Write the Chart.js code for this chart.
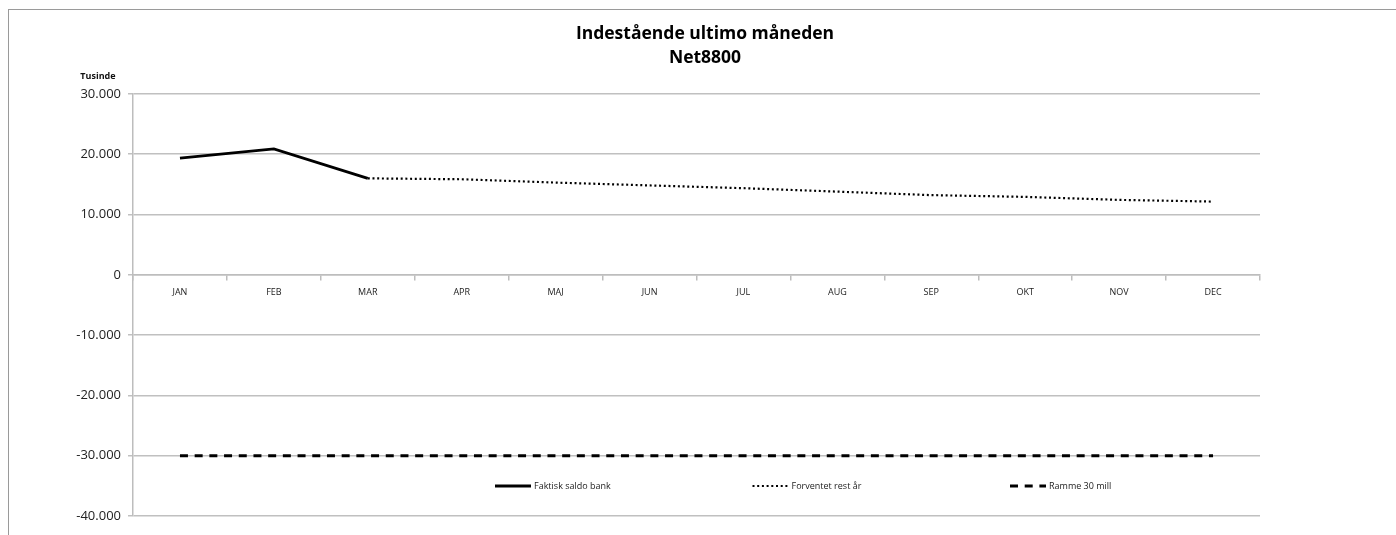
<!DOCTYPE html>
<html>
<head>
<meta charset="utf-8">
<script src="https://cdn.jsdelivr.net/npm/chart.js@4.4.0/dist/chart.umd.min.js"></script>
<style>
  html, body { margin: 0; padding: 0; background: #fff; }
  #wrap { position: relative; width: 1396px; height: 535px; }
  #frame { position: absolute; left: 8px; top: 9px; right: -2px; bottom: -2px; border-left: 1px solid #9a9a9a; border-top: 1px solid #9a9a9a; pointer-events: none; }
</style>
</head>
<body>
<div id="wrap">
  <canvas id="c" width="1396" height="535"></canvas>
  <div id="frame"></div>
</div>
<script>
const categories = ['JAN','FEB','MAR','APR','MAJ','JUN','JUL','AUG','SEP','OKT','NOV','DEC'];
const faktiskSaldo = [19350, 20900, 16000, null, null, null, null, null, null, null, null, null];
const forventetRest = [null, null, 16000, 15850, 15300, 14830, 14370, 13800, 13220, 12930, 12430, 12150];
const ramme = [-30000, -30000, -30000, -30000, -30000, -30000, -30000, -30000, -30000, -30000, -30000, -30000];
const seriesNames = ['Faktisk saldo bank', 'Forventet rest år', 'Ramme 30 mill'];
const titleLines = ['Indestående ultimo måneden', 'Net8800'];
const yAxisUnit = 'Tusinde';
const yMin = -40000, yMax = 30000, yStep = 10000;

const FONT = "'Open Sans', 'Liberation Sans', sans-serif";

function fmt(v) {
  const neg = v < 0;
  const s = Math.abs(v).toString().replace(/\B(?=(\d{3})+(?!\d))/g, '.');
  return (neg ? '-' : '') + s;
}

const extras = {
  id: 'extras',
  afterDraw(chart) {
    const ctx = chart.ctx;
    const a = chart.chartArea;
    ctx.save();
    // axis unit label
    ctx.fillStyle = '#111';
    ctx.font = "bold 9px " + FONT;
    ctx.textAlign = 'center';
    ctx.textBaseline = 'middle';
    ctx.fillText(yAxisUnit, a.left - 35, a.top - 18);
    // legend
    const y = a.bottom - 30;
    const x0 = a.left + 362;
    const spacing = 257.5;
    chart.data.datasets.forEach((ds, i) => {
      const x = x0 + i * spacing;
      ctx.beginPath();
      ctx.strokeStyle = ds.borderColor;
      ctx.lineWidth = ds.borderWidth;
      ctx.setLineDash(ds.borderDash || []);
      ctx.lineCap = 'butt';
      ctx.moveTo(x, y);
      ctx.lineTo(x + 36, y);
      ctx.stroke();
      ctx.setLineDash([]);
      ctx.fillStyle = '#222';
      ctx.font = "9px " + FONT;
      ctx.textAlign = 'left';
      ctx.textBaseline = 'middle';
      ctx.fillText(ds.label, x + 39, y);
    });
    ctx.restore();
  }
};

new Chart(document.getElementById('c'), {
  type: 'line',
  data: {
    labels: categories,
    datasets: [
      { label: seriesNames[0], data: faktiskSaldo, borderColor: '#000', borderWidth: 2.8, pointRadius: 0, tension: 0, spanGaps: false },
      { label: seriesNames[1], data: forventetRest, borderColor: '#000', borderWidth: 2.2, borderDash: [2, 2.7], pointRadius: 0, tension: 0 },
      { label: seriesNames[2], data: ramme, borderColor: '#000', borderWidth: 3, borderDash: [8, 6.7], pointRadius: 0, tension: 0 }
    ]
  },
  options: {
    responsive: false,
    animation: false,
    layout: { padding: { left: 14, right: 0, top: 0, bottom: 19 } },
    plugins: {
      legend: { display: false },
      tooltip: { enabled: false },
      title: {
        display: true,
        text: titleLines,
        color: '#000',
        font: { family: FONT, size: 17.5, weight: 'bold', lineHeight: 1.37 },
        padding: { top: 22, bottom: 24 }
      }
    },
    scales: {
      x: {
        type: 'category',
        position: { y: 0 },
        offset: true,
        grid: { offset: true, drawOnChartArea: false, drawTicks: true, tickLength: 5, color: '#bdbdbd', lineWidth: 1.5 },
        border: { display: true, color: '#bdbdbd', width: 1.5 },
        ticks: { color: '#222', font: { family: FONT, size: 9 }, padding: 7, maxRotation: 0, autoSkip: false }
      },
      y: {
        min: yMin, max: yMax,
        afterFit(scale) { scale.width = 119; },
        grid: { color: '#c0c0c0', lineWidth: 1.5, tickLength: 5 },
        border: { display: true, color: '#bdbdbd', width: 1.5 },
        ticks: { stepSize: yStep, color: '#222', font: { family: FONT, size: 13 }, padding: 7, callback: (v) => fmt(v) }
      },
      yPad: {
        position: 'right',
        display: true,
        min: 0, max: 1,
        afterFit(scale) { scale.width = 136; },
        grid: { display: false, drawOnChartArea: false },
        border: { display: false },
        ticks: { display: false }
      }
    }
  },
  plugins: [extras]
});
</script>
</body>
</html>
